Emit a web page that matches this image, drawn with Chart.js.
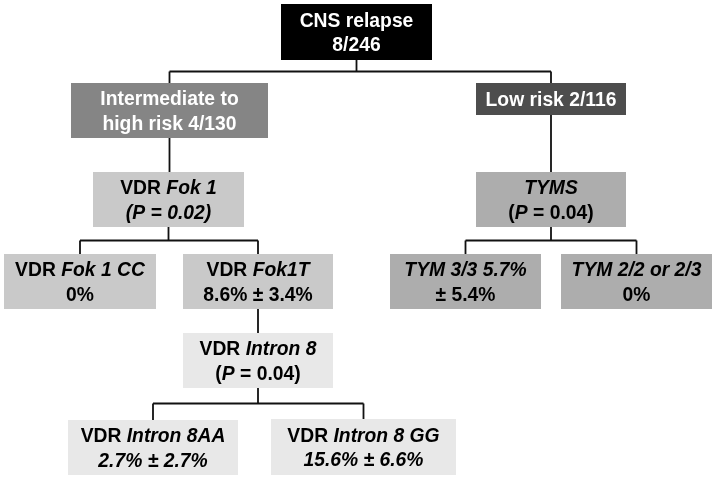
<!DOCTYPE html>
<html>
<head>
<meta charset="utf-8">
<script src="https://cdn.jsdelivr.net/npm/chart.js@4"></script>
<style>
  html, body { margin: 0; padding: 0; background: #fff; }
  #wrap { position: relative; width: 717px; height: 480px; }
</style>
</head>
<body>
<div id="wrap"><canvas id="tree"></canvas></div>
<script>
// tree content: each node is a list of lines, *...* marks italic runs
const nodeText = [
  ["CNS relapse", "8/246"],
  ["Intermediate to", "high risk 4/130"],
  ["Low risk 2/116"],
  ["VDR *Fok 1*", "*(P = 0.02)*"],
  ["*TYMS*", "(*P* = 0.04)"],
  ["VDR *Fok 1 CC*", "0%"],
  ["VDR *Fok1T*", "8.6% ± 3.4%"],
  ["*TYM 3/3 5.7%*", "± 5.4%"],
  ["*TYM 2/2 or 2/3*", "0%"],
  ["VDR *Intron 8*", "(*P* = 0.04)"],
  ["VDR *Intron 8AA*", "*2.7% ± 2.7%*"],
  ["VDR *Intron 8 GG*", "*15.6% ± 6.6%*"],
];
const parentOf = [-1, 0, 0, 1, 2, 3, 3, 4, 4, 6, 9, 9];

// layout (in chart units = pixels of the 717x480 frame)
const boxCx = [356.5, 169.5, 551, 168.5, 551, 80, 258, 465.5, 636.5, 258, 153, 363.5];
const boxCy = [32, 110.5, 99, 199.5, 199.5, 281.5, 281.5, 281.5, 281.5, 360.5, 447.5, 447];
const boxW  = [151, 197, 150, 151, 150, 152, 150, 151, 151, 150, 170, 185];
const boxH  = [56, 55, 32, 55, 55, 55, 55, 55, 55, 55, 55, 56];
const boxFill = ["#000000", "#858585", "#4d4d4d", "#c9c9c9", "#adadad", "#c9c9c9",
                 "#c9c9c9", "#adadad", "#adadad", "#e8e8e8", "#e8e8e8", "#e8e8e8"];
const textColor = ["#fff", "#fff", "#fff", "#000", "#000", "#000", "#000", "#000", "#000", "#000", "#000", "#000"];

const FONT = '"Liberation Sans", Arial, sans-serif';
const FONT_PX = 20;
const SQUEEZE = 0.965;
const LINE_GAP = 24.5;

// connector segments built from the tree
function buildSegments() {
  const segs = [];
  nodeText.forEach((_, p) => {
    const kids = parentOf.map((q, i) => (q === p ? i : -1)).filter((i) => i >= 0);
    if (!kids.length) return;
    const top = boxCy[p] + boxH[p] / 2;
    if (kids.length === 1) {
      const k = kids[0];
      segs.push([[boxCx[p], top], [boxCx[p], boxCy[k] - boxH[k] / 2]]);
      return;
    }
    const childTop = Math.min(...kids.map((k) => boxCy[k] - boxH[k] / 2));
    const mid = (top + childTop) / 2;
    const xs = kids.map((k) => boxCx[k]);
    segs.push([[boxCx[p], top], [boxCx[p], mid]]);
    segs.push([[Math.min(...xs), mid], [Math.max(...xs), mid]]);
    kids.forEach((k) => segs.push([[boxCx[k], mid], [boxCx[k], boxCy[k] - boxH[k] / 2]]));
  });
  return segs;
}

const datasets = buildSegments().map((s) => ({
  type: "line",
  data: s.map(([x, y]) => ({ x, y })),
  borderColor: "#111",
  borderWidth: 1.8,
  pointRadius: 0,
  fill: false,
  tension: 0,
}));

function parseRuns(line) {
  const parts = line.split("*");
  return parts.map((t, i) => ({ t, it: i % 2 === 1 })).filter((r) => r.t.length);
}

const boxPlugin = {
  id: "boxes",
  afterDatasetsDraw(chart) {
    const { ctx, scales: { x, y } } = chart;
    ctx.save();
    nodeText.forEach((lines, i) => {
      const x0 = x.getPixelForValue(boxCx[i] - boxW[i] / 2);
      const x1 = x.getPixelForValue(boxCx[i] + boxW[i] / 2);
      const y0 = y.getPixelForValue(boxCy[i] - boxH[i] / 2);
      const y1 = y.getPixelForValue(boxCy[i] + boxH[i] / 2);
      ctx.fillStyle = boxFill[i];
      ctx.fillRect(x0, y0, x1 - x0, y1 - y0);

      const cx = x.getPixelForValue(boxCx[i]);
      const cy = y.getPixelForValue(boxCy[i]) + 1.5;
      ctx.fillStyle = textColor[i];
      ctx.textBaseline = "middle";
      ctx.textAlign = "left";
      lines.forEach((line, li) => {
        const ly = cy + (li - (lines.length - 1) / 2) * LINE_GAP;
        const runs = parseRuns(line);
        let total = 0;
        runs.forEach((r) => {
          ctx.font = `${r.it ? "italic " : ""}bold ${FONT_PX}px ${FONT}`;
          r.w = ctx.measureText(r.t).width;
          total += r.w;
        });
        ctx.save();
        ctx.translate(cx, ly);
        ctx.scale(SQUEEZE, 1);
        let sx = -total / 2;
        runs.forEach((r) => {
          ctx.font = `${r.it ? "italic " : ""}bold ${FONT_PX}px ${FONT}`;
          ctx.fillText(r.t, sx, 0);
          sx += r.w;
        });
        ctx.restore();
      });
    });
    ctx.restore();
  },
};

new Chart(document.getElementById("tree"), {
  type: "scatter",
  data: { datasets },
  options: {
    responsive: true,
    maintainAspectRatio: false,
    animation: false,
    layout: { padding: 0 },
    scales: {
      x: { type: "linear", min: 0, max: 717, display: false },
      y: { type: "linear", min: 0, max: 480, reverse: true, display: false },
    },
    plugins: { legend: { display: false }, tooltip: { enabled: false } },
  },
  plugins: [boxPlugin],
});
</script>
</body>
</html>
